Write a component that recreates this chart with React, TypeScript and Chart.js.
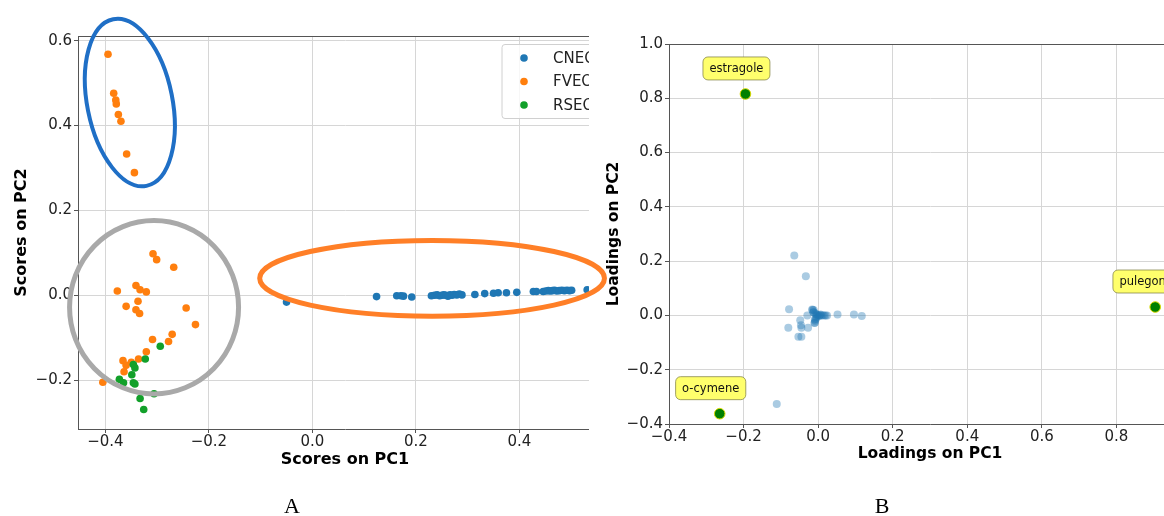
import React, { useEffect, useRef } from "react";
import { Chart, registerables } from "chart.js";
Chart.register(...registerables);

// ---------- Panel A : scores ----------
const cneoX = [-0.05, 0.124, 0.163, 0.171, 0.176, 0.192, 0.23, 0.236, 0.241, 0.246, 0.25, 0.254, 0.258, 0.262, 0.266, 0.27, 0.274, 0.279, 0.284, 0.289, 0.314, 0.333, 0.35, 0.359, 0.375, 0.395, 0.427, 0.433, 0.446, 0.451, 0.456, 0.46, 0.464, 0.468, 0.472, 0.477, 0.482, 0.487, 0.492, 0.497, 0.501, 0.531];
const cneoY = [-0.016, -0.003, -0.001, -0.001, -0.002, -0.004, -0.001, 0.0, 0.001, -0.001, 0.0, 0.001, 0.0, -0.002, 0.001, 0.0, 0.002, 0.001, 0.003, 0.001, 0.002, 0.004, 0.005, 0.006, 0.006, 0.007, 0.009, 0.009, 0.009, 0.01, 0.011, 0.01, 0.011, 0.012, 0.01, 0.011, 0.012, 0.011, 0.012, 0.011, 0.012, 0.013];
const fveoX = [-0.395, -0.384, -0.38, -0.379, -0.375, -0.37, -0.359, -0.344, -0.308, -0.301, -0.268, -0.377, -0.341, -0.333, -0.321, -0.337, -0.36, -0.341, -0.334, -0.244, -0.226, -0.271, -0.278, -0.309, -0.321, -0.336, -0.366, -0.35, -0.36, -0.364, -0.405];
const fveoY = [0.568, 0.476, 0.46, 0.451, 0.426, 0.41, 0.333, 0.289, 0.098, 0.084, 0.066, 0.01, 0.023, 0.013, 0.008, -0.014, -0.026, -0.034, -0.043, -0.03, -0.069, -0.092, -0.109, -0.104, -0.133, -0.15, -0.154, -0.158, -0.165, -0.18, -0.205];
const rseoX = [-0.294, -0.323, -0.346, -0.343, -0.349, -0.373, -0.365, -0.346, -0.343, -0.333, -0.306, -0.326];
const rseoY = [-0.12, -0.15, -0.163, -0.171, -0.187, -0.198, -0.206, -0.206, -0.209, -0.243, -0.232, -0.269];
const seriesNamesA = ["CNEO", "FVEO", "RSEO"];
const seriesColorsA = ["#1f77b4", "#ff7f0e", "#12a02a"];
const scoreXTicks = [-0.4, -0.2, 0, 0.2, 0.4];
const scoreYTicks = [-0.2, 0, 0.2, 0.4, 0.6];

// ---------- Panel B : loadings ----------
const loadX = [-0.064, -0.033, -0.078, -0.015, -0.013, -0.029, -0.08, -0.048, -0.046, -0.045, -0.027, -0.053, -0.045, -0.009, -0.009, -0.016, -0.012, -0.012, -0.008, -0.005, -0.004, -0.006, -0.008, -0.01, -0.003, 0.0, 0.004, 0.008, 0.012, 0.016, 0.02, 0.024, 0.002, 0.006, 0.052, 0.096, 0.117, -0.111];
const loadY = [0.221, 0.144, 0.023, 0.02, 0.012, 0.0, -0.045, -0.018, -0.036, -0.045, -0.045, -0.079, -0.079, -0.015, -0.027, 0.022, 0.02, 0.012, 0.008, 0.004, -0.006, -0.012, -0.02, -0.028, 0.0, 0.002, 0.001, 0.0, 0.001, 0.0, 0.0, 0.0, -0.003, 0.003, 0.003, 0.003, -0.002, -0.326];
const keyNames = ["estragole", "o-cymene", "pulegone"];
const keyX = [-0.195, -0.264, 0.904];
const keyY = [0.816, -0.362, 0.031];
const loadTicks = [-0.4, -0.2, 0, 0.2, 0.4, 0.6, 0.8, 1.0];

// ---------- hand-drawn ellipse annotations over panel A ----------
const ellipsesA = [
  { cx: -0.3528, cy: 0.4541, rx: 42.6, ry: 84.9, rot: -11.3, color: "#1f6fc6", width: 4 },
  { cx: -0.306, cy: -0.028, rx: 84.5, ry: 86.7, rot: 0, color: "#a9a9a9", width: 5 },
  { cx: 0.2313, cy: 0.04, rx: 172.4, ry: 37.9, rot: 0, color: "#ff7f27", width: 5 },
];

const FONT = "'DejaVu Sans', sans-serif";
const GRID = "#d6d6d6";
const SPINE = "#555";
const CROP_A = 589;

const fmt = (v: any) => {
  const n = Number(v);
  const s = Math.abs(n) < 1e-9 ? "0.0" : n.toFixed(1);
  return s.replace("-", "\u2212");
};

const pts = (xs: number[], ys: number[]) => xs.map((x, i) => ({ x, y: ys[i] }));

function axis(min: number, max: number, ticks: number[], size: number, title: string, titleSize: number, titlePad: any, horizontal: boolean, fixed: number) {
  return {
    type: "linear" as const,
    min,
    max,
    afterFit: (s: any) => {
      if (horizontal) s.height = fixed;
      else s.width = fixed;
    },
    afterBuildTicks: (s: any) => {
      s.ticks = ticks.map((v) => ({ value: v }));
    },
    ticks: {
      callback: (v: any) => fmt(v),
      font: { family: FONT, size },
      color: "#222",
      padding: horizontal ? 0 : 2,
      maxRotation: 0,
      autoSkip: false,
    },
    grid: { color: GRID, lineWidth: 1, tickLength: 4, tickColor: SPINE, tickWidth: 1 },
    border: { color: SPINE, width: 1 },
    title: {
      display: true,
      text: title,
      color: "#000",
      font: { family: FONT, size: titleSize, weight: "bold" as const },
      padding: titlePad,
    },
  };
}

export default function App() {
  const aRef = useRef<HTMLCanvasElement>(null);
  const bRef = useRef<HTMLCanvasElement>(null);

  useEffect(() => {
    const frameA = {
      id: "frameA",
      afterDraw(chart: any) {
        const { ctx, chartArea: ca } = chart;
        ctx.save();
        ctx.strokeStyle = SPINE;
        ctx.lineWidth = 1;
        ctx.beginPath();
        ctx.moveTo(ca.left, ca.top + 0.5);
        ctx.lineTo(ca.right, ca.top + 0.5);
        ctx.moveTo(ca.right - 0.5, ca.top);
        ctx.lineTo(ca.right - 0.5, ca.bottom);
        ctx.stroke();

        // legend (upper right)
        const bx = ca.right - 110;
        const by = ca.top + 8.5;
        const bw = 102;
        const bh = 74;
        ctx.beginPath();
        ctx.roundRect(bx, by, bw, bh, 3);
        ctx.fillStyle = "rgba(255,255,255,0.8)";
        ctx.fill();
        ctx.strokeStyle = "#d0d0d0";
        ctx.stroke();
        ctx.font = `15px ${FONT}`;
        ctx.textBaseline = "middle";
        ctx.textAlign = "left";
        seriesNamesA.forEach((name, i) => {
          const y = by + 13.5 + i * 23.5;
          ctx.beginPath();
          ctx.arc(bx + 22, y, 3.8, 0, Math.PI * 2);
          ctx.fillStyle = seriesColorsA[i];
          ctx.fill();
          ctx.fillStyle = "#222";
          ctx.fillText(name, bx + 51, y + 1);
        });

        // the figure is cropped on the right
        ctx.fillStyle = "#fff";
        ctx.fillRect(CROP_A, 0, chart.width - CROP_A, chart.height);

        // ellipse annotations
        const sx = chart.scales.x;
        const sy = chart.scales.y;
        ellipsesA.forEach((e) => {
          ctx.beginPath();
          ctx.ellipse(sx.getPixelForValue(e.cx), sy.getPixelForValue(e.cy), e.rx, e.ry, (e.rot * Math.PI) / 180, 0, Math.PI * 2);
          ctx.strokeStyle = e.color;
          ctx.lineWidth = e.width;
          ctx.stroke();
        });
        ctx.restore();
      },
    };

    const chartA = new Chart(aRef.current as HTMLCanvasElement, {
      type: "scatter",
      data: {
        datasets: [
          { label: seriesNamesA[0], data: pts(cneoX, cneoY), backgroundColor: seriesColorsA[0], pointRadius: 3.8, pointBorderWidth: 0, order: 2 },
          { label: seriesNamesA[1], data: pts(fveoX, fveoY), backgroundColor: seriesColorsA[1], pointRadius: 3.8, pointBorderWidth: 0, order: 1 },
          { label: seriesNamesA[2], data: pts(rseoX, rseoY), backgroundColor: seriesColorsA[2], pointRadius: 3.8, pointBorderWidth: 0, order: 0 },
        ],
      },
      options: {
        responsive: false,
        animation: false,
        devicePixelRatio: 1,
        layout: { padding: { left: 0, top: 36, right: 48, bottom: 0 } },
        plugins: { legend: { display: false }, tooltip: { enabled: false } },
        scales: {
          x: axis(-0.453, 0.579, scoreXTicks, 15, "Scores on PC1", 16, { top: 0, bottom: 47 }, true, 87) as any,
          y: axis(-0.315, 0.611, scoreYTicks, 15, "Scores on PC2", 16, { top: 12, bottom: 0 }, false, 78) as any,
        },
      },
      plugins: [frameA],
    });

    const frameB = {
      id: "frameB",
      afterDatasetsDraw(chart: any) {
        const { ctx } = chart;
        const sx = chart.scales.x;
        const sy = chart.scales.y;
        ctx.save();
        ctx.font = `11.5px ${FONT}`;
        ctx.textAlign = "center";
        ctx.textBaseline = "middle";
        keyNames.forEach((name, i) => {
          const px = sx.getPixelForValue(keyX[i]);
          const py = sy.getPixelForValue(keyY[i]);
          const cx = px - 9;
          const cy = py - 25.5;
          const w = ctx.measureText(name).width + 13;
          const h = 23;
          ctx.beginPath();
          ctx.roundRect(cx - w / 2, cy - h / 2, w, h, 5);
          ctx.fillStyle = "#ffff6c";
          ctx.fill();
          ctx.strokeStyle = "rgba(130,130,70,0.75)";
          ctx.lineWidth = 1;
          ctx.stroke();
          ctx.fillStyle = "#111";
          ctx.fillText(name, cx, cy + 0.5);
        });
        ctx.restore();
      },
      afterDraw(chart: any) {
        const { ctx, chartArea: ca } = chart;
        ctx.save();
        ctx.strokeStyle = SPINE;
        ctx.lineWidth = 1;
        ctx.beginPath();
        ctx.moveTo(ca.left, ca.top + 0.5);
        ctx.lineTo(ca.right, ca.top + 0.5);
        ctx.moveTo(ca.right - 0.5, ca.top);
        ctx.lineTo(ca.right - 0.5, ca.bottom);
        ctx.stroke();
        ctx.restore();
      },
    };

    const chartB = new Chart(bRef.current as HTMLCanvasElement, {
      type: "scatter",
      data: {
        datasets: [
          { label: "key", data: pts(keyX, keyY), backgroundColor: "#008000", borderColor: "#d8d800", pointRadius: 5.3, pointBorderWidth: 1 },
          { label: "loadings", data: pts(loadX, loadY), backgroundColor: "rgba(31,119,180,0.38)", pointRadius: 4, pointBorderWidth: 0 },
        ],
      },
      options: {
        responsive: false,
        animation: false,
        devicePixelRatio: 1,
        layout: { padding: { left: 0, top: 44, right: 39, bottom: 0 } },
        plugins: { legend: { display: false }, tooltip: { enabled: false } },
        scales: {
          x: axis(-0.4, 1.0, loadTicks, 15, "Loadings on PC1", 15.5, { top: 0, bottom: 53 }, true, 92) as any,
          y: axis(-0.4, 1.0, loadTicks, 15, "Loadings on PC2", 15.5, { top: 15, bottom: 0 }, false, 79) as any,
        },
      },
      plugins: [frameB],
    });

    return () => {
      chartA.destroy();
      chartB.destroy();
    };
  }, []);

  const panelLabel: React.CSSProperties = {
    position: "absolute",
    top: 495,
    width: 40,
    textAlign: "center",
    font: "22px 'Liberation Serif', 'DejaVu Serif', serif",
    lineHeight: "22px",
    color: "#000",
  };

  return (
    <div style={{ position: "fixed", left: 0, top: 0, width: 1164, height: 516, overflow: "hidden", background: "#fff" }}>
      <canvas ref={aRef} width={660} height={516} style={{ position: "absolute", left: 0, top: 0, width: 660, height: 516 }} />
      <canvas ref={bRef} width={640} height={516} style={{ position: "absolute", left: 590, top: 0, width: 640, height: 516 }} />
      <div style={{ ...panelLabel, left: 272 }}>A</div>
      <div style={{ ...panelLabel, left: 862 }}>B</div>
    </div>
  );
}
